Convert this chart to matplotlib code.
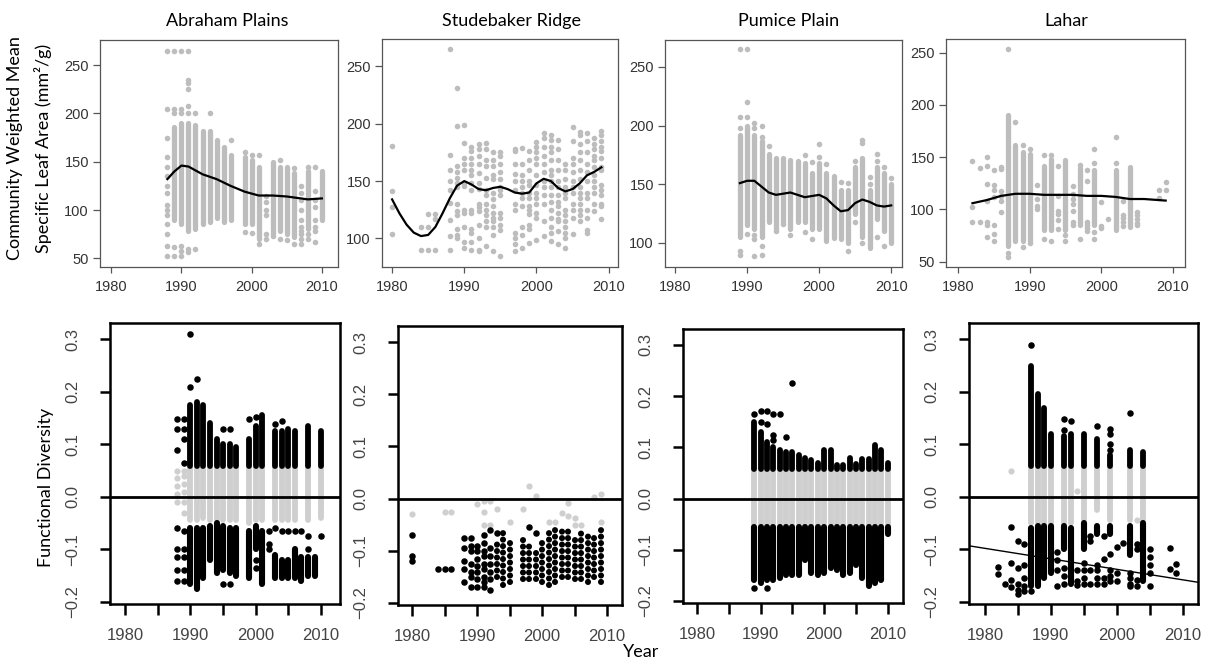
import numpy as np
import matplotlib
matplotlib.use('Agg')
import matplotlib.pyplot as plt

# ---------------- top row: community weighted mean SLA ----------------
# Abraham Plains: dense columns (year, low, high) + loose points + smooth line
ap_years = [1989, 1990, 1991, 1992, 1993, 1994, 1995, 1996, 1997, 1999, 2000, 2001, 2003, 2004, 2005, 2006, 2008, 2010]
ap_lo = [90, 85, 78, 80, 85, 88, 92, 88, 90, 85, 85, 70, 75, 78, 75, 72, 80, 90]
ap_hi = [186, 190, 190, 188, 182, 182, 172, 165, 157, 155, 152, 145, 150, 145, 145, 138, 140, 140]
ap_pt_years = [1988, 1989, 1990, 1991, 1992, 1994, 1997, 1999, 2000, 2001, 2002, 2003, 2004, 2005, 2006, 2007, 2008, 2009]
ap_pt_vals = [
    [265, 205, 175, 155, 145, 135, 125, 118, 105, 100, 95, 85, 75, 63, 52],
    [265, 205, 200, 62, 52],
    [265, 205, 200, 63, 58, 52],
    [265, 235, 232, 225, 208, 200, 60, 57],
    [200, 60],
    [200],
    [172],
    [160, 77],
    [157, 76],
    [157, 65],
    [115, 108, 100, 95, 75, 70],
    [73],
    [152, 70],
    [69],
    [143, 65],
    [125, 118, 110, 100, 90, 82, 78, 75, 70, 65],
    [145, 75, 70],
    [145, 120, 110, 103, 90, 82, 78, 67],
]
ap_line_x = [1988, 1989, 1990, 1991, 1992, 1993, 1995, 1997, 1999, 2001, 2003, 2005, 2007, 2008, 2010]
ap_line_y = [132, 140, 146, 145, 141, 137, 132, 125, 119, 115, 115, 114, 112, 111, 112]

# Studebaker Ridge: only loose points
sr_pt_years = [1980, 1984, 1985, 1986, 1988, 1989, 1990, 1991, 1992, 1993, 1994, 1995, 1997, 1998,
               1999, 2000, 2001, 2002, 2003, 2004, 2005, 2006, 2007, 2008, 2009]
sr_pt_vals = [
    [181, 141, 127, 104],
    [110, 90],
    [121, 110, 90],
    [121, 117, 90],
    [265, 173, 160, 150, 142, 131, 116, 102, 90],
    [231, 198, 163, 158, 153, 148, 145, 130, 124, 120, 108, 103, 100],
    [199, 183, 170, 165, 160, 148, 146, 125, 122, 110, 97, 92],
    [180, 176, 170, 165, 160, 155, 148, 142, 125, 122, 108, 105, 97, 90],
    [182, 178, 172, 165, 157, 148, 143, 130, 127, 124, 112, 100, 90, 89],
    [183, 178, 168, 163, 153, 142, 138, 130, 125, 120, 115, 110, 93],
    [175, 168, 163, 155, 152, 140, 134, 128, 122, 118, 115, 110, 103, 89],
    [175, 172, 165, 158, 152, 145, 142, 138, 122, 118, 112, 107, 85],
    [178, 176, 165, 156, 150, 142, 130, 125, 105, 100, 95, 89],
    [179, 165, 155, 150, 145, 140, 135, 128, 110, 103, 92],
    [176, 168, 160, 150, 147, 140, 135, 128, 125, 121, 112, 108, 96],
    [184, 180, 175, 170, 165, 155, 147, 140, 135, 130, 122, 118, 99],
    [192, 188, 180, 172, 165, 158, 150, 145, 138, 130, 115, 102],
    [190, 186, 180, 175, 168, 160, 155, 150, 145, 138, 132, 125, 118, 110, 105, 98],
    [186, 178, 168, 160, 150, 145, 138, 132, 128, 122, 117, 115, 106, 95],
    [165, 160, 152, 145, 140, 135, 125, 120, 115, 110, 105, 100, 92],
    [197, 185, 170, 165, 158, 150, 145, 140, 130, 125, 118, 104],
    [193, 190, 182, 175, 168, 160, 152, 145, 140, 135, 130, 125, 120, 115],
    [192, 185, 175, 165, 158, 150, 140, 135, 125, 118, 107, 105],
    [188, 182, 178, 172, 168, 162, 155, 150, 145, 140, 130, 124],
    [194, 190, 185, 180, 176, 170, 162, 160, 147, 142, 138, 130, 128, 117],
]
sr_line_x = [1980, 1981, 1982, 1983, 1984, 1985, 1986, 1987, 1988, 1989, 1990, 1991, 1992, 1993, 1994,
             1995, 1996, 1997, 1998, 1999, 2000, 2001, 2002, 2003, 2004, 2005, 2006, 2007, 2008, 2009]
sr_line_y = [134, 122, 112, 105, 102, 103, 110, 122, 135, 146, 150, 147, 143, 142, 144,
             145, 143, 140, 139, 140, 148, 152, 150, 144, 141, 143, 148, 155, 158, 162]

# Pumice Plain
pp_years = [1989, 1990, 1991, 1992, 1993, 1994, 1995, 1996, 1997, 1998, 1999,
            2000, 2001, 2002, 2003, 2004, 2005, 2006, 2007, 2008, 2009, 2010]
pp_lo = [105, 115, 112, 105, 118, 112, 118, 112, 118, 118, 112, 112, 102, 104, 103, 100, 125, 105, 96, 120, 110, 100]
pp_hi = [192, 200, 192, 187, 176, 172, 172, 171, 170, 168, 160, 168, 160, 157, 145, 145, 165, 172, 145, 165, 160, 150]
pp_pt_years = [1989, 1990, 1991, 1992, 1993, 1994, 1995, 1996, 1998, 1999, 2000, 2001, 2003,
               2004, 2005, 2006, 2007, 2008, 2009, 2010]
pp_pt_vals = [
    [265, 207, 198, 93, 90],
    [265, 220, 207, 108],
    [202, 198, 107, 103, 89],
    [200, 190, 97, 90],
    [183],
    [110],
    [116],
    [107],
    [175, 109],
    [169, 103],
    [184, 173],
    [167],
    [152],
    [151, 93],
    [170, 118],
    [188, 185, 100],
    [156, 150],
    [176, 170, 105],
    [165, 97],
    [155],
]
pp_line_x = pp_years
pp_line_y = [151, 153, 153, 148, 143, 141, 142, 143, 141, 139, 140, 141, 138, 132, 127, 128, 134, 137, 135, 132, 131, 132]

# Lahar
lh_years = [1987, 1988, 1989, 1990, 1992, 1993, 1995, 1997, 1999, 2002, 2004]
lh_lo = [65, 70, 70, 70, 80, 80, 80, 85, 85, 80, 83]
lh_hi = [190, 162, 155, 153, 142, 148, 147, 140, 138, 138, 141]
lh_pt_years = [1982, 1983, 1984, 1985, 1986, 1987, 1988, 1989, 1990, 1991, 1992, 1993, 1994, 1995,
               1996, 1997, 1998, 1999, 2000, 2001, 2002, 2003, 2005, 2008, 2009]
lh_pt_vals = [
    [146, 102, 88],
    [140, 88],
    [150, 142, 124, 108, 88, 85, 74],
    [138, 123, 119, 112, 85, 77, 70],
    [141, 139, 118, 113, 108, 98],
    [253, 58, 55],
    [184],
    [162, 64],
    [158, 68],
    [123, 110, 103, 100],
    [152, 72],
    [152, 70],
    [142, 113, 99, 96, 90, 81],
    [76, 70],
    [122, 115, 110, 105, 99, 88, 85],
    [143, 72],
    [138, 127, 88, 85, 82, 79],
    [158, 144, 78, 72],
    [107, 84, 82],
    [91],
    [169, 144],
    [108, 95, 92, 88, 84],
    [98, 95, 91, 87, 85],
    [119, 111],
    [126, 119],
]
lh_line_x = [1982, 1984, 1986, 1988, 1990, 1992, 1994, 1996, 1998, 2000, 2002, 2004, 2006, 2008, 2009]
lh_line_y = [106, 109, 113, 115, 115, 114, 114, 114, 113, 113, 112, 110, 110, 109, 108.5]

# ---------------- bottom row: functional diversity ----------------
nan = np.nan
# Abraham Plains
fa_years = [1990, 1991, 1992, 1993, 1994, 1995, 1996, 1997, 1999, 2000, 2001, 2003, 2004, 2005, 2006, 2007, 2008, 2009, 2010]
fa_top = [0.175, 0.18, 0.175, 0.14, 0.11, 0.10, 0.10, 0.095, 0.11, 0.135, 0.155, 0.125, 0.125, 0.13, 0.125, nan, 0.135, nan, 0.125]
fa_gray = [-0.045, -0.045, -0.04, -0.045, -0.045, -0.045, -0.045, -0.045, -0.05, -0.045, -0.045, -0.045, -0.045, -0.045, -0.045, nan, -0.045, nan, -0.04]
fa_dn_hi = [-0.06, -0.06, -0.06, -0.055, -0.05, -0.055, -0.06, -0.06, -0.065, -0.055, -0.065, -0.11, -0.12, -0.12, -0.1, -0.115, -0.115, -0.115, nan]
fa_dn_lo = [-0.165, -0.175, -0.155, -0.12, -0.145, -0.14, -0.145, -0.15, -0.155, -0.1, -0.165, -0.155, -0.155, -0.155, -0.155, -0.16, -0.15, -0.15, nan]
fa_pt_years = [1988, 1989, 1990, 1991, 1995, 1996, 1999, 2000, 2002, 2003, 2004, 2005, 2006, 2007, 2008, 2010]
fa_pt_vals = [
    [0.148, 0.13, 0.09, -0.06, -0.1, -0.115, -0.14, -0.16],
    [0.148, 0.13, 0.11, 0.065, -0.065, -0.1, -0.115, -0.14, -0.16],
    [0.31, 0.21],
    [0.225],
    [0.13, -0.165],
    [0.13, -0.165],
    [0.148],
    [0.152, -0.12, -0.135],
    [-0.065, -0.09, -0.1],
    [0.138, -0.06],
    [0.145, -0.065],
    [-0.065],
    [-0.065],
    [-0.065],
    [-0.075, -0.1],
    [-0.075],
]
fa_gp_years = [1988, 1989]
fa_gp_vals = [[0.05, 0.035, 0.02, 0.005, -0.01], [0.05, 0.04, 0.025, 0.01, -0.01, -0.03]]

# Studebaker Ridge
fs_years = [1993, 1994, 1995, 1997, 1998, 1999, 2000, 2001, 2002, 2003, 2004, 2005, 2006, 2007, 2008, 2009]
fs_dn_hi = [-0.08, -0.06, -0.075, -0.075, -0.09, -0.1, -0.085, -0.055, -0.06, -0.055, -0.06, -0.075, -0.06, -0.065, -0.07, -0.06]
fs_dn_lo = [-0.15, -0.165, -0.16, -0.155, -0.155, -0.155, -0.16, -0.165, -0.16, -0.15, -0.15, -0.155, -0.155, -0.16, -0.15, -0.16]
fs_pt_years = [1980, 1984, 1985, 1986, 1988, 1989, 1990, 1991, 1992, 1993, 1998, 1999]
fs_pt_vals = [
    [-0.07, -0.11, -0.12],
    [-0.135],
    [-0.135],
    [-0.135],
    [-0.075, -0.095, -0.12, -0.135, -0.16],
    [-0.075, -0.09, -0.1, -0.125, -0.14, -0.15, -0.17],
    [-0.09, -0.1, -0.115, -0.13, -0.14, -0.155, -0.17],
    [-0.07, -0.085, -0.1, -0.11, -0.125, -0.135, -0.15, -0.16, -0.17],
    [-0.06, -0.095, -0.11, -0.125, -0.14, -0.155, -0.175],
    [-0.065],
    [-0.055],
    [-0.065],
]
fs_gp_years = [1980, 1985, 1986, 1990, 1991, 1992, 1993, 1995, 1997, 1998, 1999, 2001, 2002, 2003, 2004, 2005, 2006, 2008, 2009]
fs_gp_vals = [
    [-0.03], [-0.025], [-0.025], [-0.01], [-0.005, -0.025, -0.05], [-0.005, -0.05], [-0.02], [-0.045],
    [-0.02], [0.025], [0.005], [-0.045], [-0.045], [-0.028], [-0.008, -0.033], [-0.038, -0.05],
    [-0.05], [0.003], [0.008, -0.045],
]

# Pumice Plain
fp_years = pp_years
fp_top = [0.15, 0.13, 0.11, 0.10, 0.095, 0.09, 0.09, 0.085, 0.08, 0.075, 0.07,
          0.095, 0.095, 0.065, 0.065, 0.08, 0.068, 0.078, 0.078, 0.105, 0.095, 0.07]
fp_gray = [-0.05] * 22
fp_dn_hi = [-0.055] * 22
fp_dn_lo = [-0.16, -0.165, -0.16, -0.16, -0.155, -0.15, -0.15, -0.15, -0.12, -0.145, -0.15,
            -0.145, -0.135, -0.14, -0.15, -0.145, -0.13, -0.155, -0.17, -0.165, -0.16, -0.07]
fp_pt_years = [1989, 1990, 1991, 1992, 1993, 1994, 1995]
fp_pt_vals = [[0.165, -0.175], [0.17, 0.15], [0.17, 0.145, -0.175], [0.165, 0.125, 0.115], [0.165], [0.12], [0.225]]

# Lahar
fl_years = lh_years
fl_top = [0.25, 0.195, 0.17, 0.12, 0.115, 0.12, 0.12, 0.11, 0.08, 0.09, 0.085]
fl_gray = [-0.05, -0.05, -0.05, -0.05, -0.05, -0.05, -0.045, -0.025, -0.045, -0.045, -0.045]
fl_dn_hi = [-0.06, -0.055, -0.055, -0.055, -0.055, -0.06, -0.05, -0.055, -0.055, -0.055, -0.05]
fl_dn_lo = [-0.17, -0.17, -0.155, -0.145, -0.1, -0.165, -0.1, -0.07, -0.07, -0.11, -0.16]
fl_pt_years = [1982, 1983, 1984, 1985, 1986, 1987, 1991, 1992, 1993, 1994, 1995, 1996, 1997,
               1998, 1999, 2000, 2001, 2002, 2003, 2005, 2008, 2009]
fl_pt_vals = [
    [-0.133, -0.147],
    [-0.165],
    [-0.058, -0.125, -0.158, -0.172],
    [-0.085, -0.135, -0.165, -0.178, -0.185],
    [-0.09, -0.13, -0.155, -0.17, -0.18],
    [0.29, -0.18],
    [-0.105, -0.12, -0.14, -0.17],
    [0.148, 0.128, -0.135, -0.15, -0.165],
    [0.145],
    [-0.14, -0.16, -0.168],
    [-0.125, -0.14, -0.155, -0.165],
    [-0.075, -0.085, -0.14, -0.165],
    [0.135, -0.13, -0.14, -0.155, -0.165],
    [-0.075, -0.118, -0.155, -0.165],
    [0.13, 0.12, 0.1, 0.09, -0.108, -0.14, -0.15, -0.16],
    [-0.095, -0.145, -0.16],
    [-0.088],
    [0.16, -0.145, -0.155, -0.165, -0.17],
    [-0.09, -0.1, -0.158, -0.17],
    [-0.1, -0.115, -0.13, -0.145, -0.17],
    [-0.098, -0.138],
    [-0.128, -0.145],
]
fl_gp_years = [1984, 1994, 2003]
fl_gp_vals = [[0.05], [0.012], [-0.045]]
fl_fit_at_1980 = -0.098
fl_fit_slope = -0.002

titles = ['Abraham Plains', 'Studebaker Ridge', 'Pumice Plain', 'Lahar']

W, H = 1212, 671
TOP_GRAY = '#bdbdbd'
LOW_GRAY = '#cfcfcf'
TICK_FONT = 'Liberation Sans'
TEXT_FONT = ['Lato', 'DejaVu Sans']


def rect(l, t, r, b):
    return [l / W, 1 - b / H, (r - l) / W, (b - t) / H]


def flat(years, vals):
    xs, ys = [], []
    for yr, vs in zip(years, vals):
        for v in vs:
            xs.append(yr)
            ys.append(v)
    return xs, ys


def top_panel(fig, box, xlim, ylim, yticks, cols, pts, line):
    ax = fig.add_axes(rect(*box))
    if cols is not None:
        x, lo, hi = cols
        ax.vlines(x, lo, hi, colors=TOP_GRAY, lw=3.8, capstyle='round', zorder=2)
    px, py = flat(*pts)
    ax.scatter(px, py, s=16, color=TOP_GRAY, lw=0, zorder=2)
    ax.plot(line[0], line[1], color='black', lw=1.6, zorder=3)
    ax.set_xlim(*xlim)
    ax.set_ylim(*ylim)
    ax.set_xticks([1980, 1990, 2000, 2010])
    ax.set_yticks(yticks)
    for s in ax.spines.values():
        s.set_color('#555555')
        s.set_linewidth(0.9)
    ax.tick_params(axis='x', length=4, width=0.9, color='#555555', pad=5.5,
                   labelsize=10.5, labelcolor='#333333')
    ax.tick_params(axis='y', length=5, width=0.9, color='#555555', pad=3,
                   labelsize=10.5, labelcolor='#333333')
    for lab in ax.get_xticklabels() + ax.get_yticklabels():
        lab.set_family(TICK_FONT)
    return ax


def keep(x, a, b):
    x, a, b = np.asarray(x, float), np.asarray(a, float), np.asarray(b, float)
    m = ~(np.isnan(a) | np.isnan(b))
    return x[m], a[m], b[m]


def bottom_panel(fig, box, xlim, years, top, gray, dn_hi, dn_lo, pts, gpts, dotted=False):
    ax = fig.add_axes(rect(*box))
    if gray is not None:
        x, a, b = keep(years, gray, [0.055] * len(years))
        ax.vlines(x, a, b, colors=LOW_GRAY, lw=4.2, capstyle='round', zorder=2)
    gx, gy = flat(*gpts)
    ax.scatter(gx, gy, s=20, color=LOW_GRAY, lw=0, zorder=2)
    if top is not None:
        x, a, b = keep(years, [0.058] * len(years), top)
        ax.vlines(x, a, b, colors='black', lw=4.2, capstyle='round', zorder=3)
    x, a, b = keep(years, dn_lo, dn_hi)
    ls = (0, (0.01, 1.05)) if dotted else 'solid'
    ax.vlines(x, a, b, colors='black', lw=4.4, capstyle='round', linestyles=ls, zorder=3)
    px, py = flat(*pts)
    ax.scatter(px, py, s=22, color='black', lw=0, zorder=3)
    ax.axhline(0, color='black', lw=2.0, zorder=4)
    ax.set_xlim(*xlim)
    ax.set_ylim(-0.204, 0.331)
    ax.set_xticks([1980, 1985, 1990, 1995, 2000, 2005, 2010])
    ax.set_xticklabels(['1980', '', '1990', '', '2000', '', '2010'])
    ax.set_yticks([-0.2, -0.1, 0.0, 0.1, 0.2, 0.3])
    ax.set_yticklabels(['\u22120.2', '\u22120.1', '0.0', '0.1', '0.2', '0.3'], rotation=90, va='center')
    for s in ax.spines.values():
        s.set_linewidth(1.8)
    ax.tick_params(axis='x', length=8, width=1.8, pad=9, labelsize=12, labelcolor='#444444')
    ax.tick_params(axis='y', length=7.5, width=1.8, pad=14, labelsize=12, labelcolor='#444444')
    for lab in ax.get_xticklabels() + ax.get_yticklabels():
        lab.set_family(TICK_FONT)
    return ax


fig = plt.figure(figsize=(W / 100, H / 100), dpi=100)

top_panel(fig, (100, 40, 338, 267), (1978.4, 2012.3), (41, 276), [50, 100, 150, 200, 250],
          (ap_years, ap_lo, ap_hi), (ap_pt_years, ap_pt_vals), (ap_line_x, ap_line_y))
top_panel(fig, (382, 39, 618, 267), (1978.6, 2011.3), (75, 274), [100, 150, 200, 250],
          None, (sr_pt_years, sr_pt_vals), (sr_line_x, sr_line_y))
top_panel(fig, (665, 40, 902, 267), (1978.6, 2011.5), (79.5, 273), [100, 150, 200, 250],
          (pp_years, pp_lo, pp_hi), (pp_pt_years, pp_pt_vals), (pp_line_x, pp_line_y))
top_panel(fig, (946, 39, 1185, 267), (1978.3, 2011.7), (45, 263), [50, 100, 150, 200, 250],
          (lh_years, lh_lo, lh_hi), (lh_pt_years, lh_pt_vals), (lh_line_x, lh_line_y))

bottom_panel(fig, (110, 323, 340, 604), (1977.7, 2012.9), fa_years, fa_top, fa_gray, fa_dn_hi, fa_dn_lo,
             (fa_pt_years, fa_pt_vals), (fa_gp_years, fa_gp_vals))
bottom_panel(fig, (398, 326, 622, 605), (1977.8, 2012.3), fs_years, None, None, fs_dn_hi, fs_dn_lo,
             (fs_pt_years, fs_pt_vals), (fs_gp_years, fs_gp_vals), dotted=True)
bottom_panel(fig, (683, 329, 903, 603), (1977.8, 2012.4), fp_years, fp_top, fp_gray, fp_dn_hi, fp_dn_lo,
             (fp_pt_years, fp_pt_vals), ([], []))
ax4 = bottom_panel(fig, (969, 323, 1198, 604), (1977.6, 2012.3), fl_years, fl_top, fl_gray, fl_dn_hi, fl_dn_lo,
                   (fl_pt_years, fl_pt_vals), (fl_gp_years, fl_gp_vals))
ax4.axline((1980, fl_fit_at_1980), slope=fl_fit_slope, color='black', lw=1.0, zorder=5)

# titles and axis labels
for title, cx in zip(titles, [227, 511, 789, 1066]):
    fig.text(cx / W, 1 - 21 / H, title, ha='center', va='center', fontsize=13, family=TEXT_FONT)
fig.text(15 / W, 1 - 148 / H, 'Community Weighted Mean', rotation=90, ha='center', va='center',
         fontsize=13, family=TEXT_FONT)
fig.text(43 / W, 1 - 148 / H, 'Specific Leaf Area (mm²/g)', rotation=90, ha='center', va='center',
         fontsize=13, family=TEXT_FONT)
fig.text(46 / W, 1 - 487 / H, 'Functional Diversity', rotation=90, ha='center', va='center',
         fontsize=13, family=TEXT_FONT)
fig.text(641 / W, 1 - 652 / H, 'Year', ha='center', va='center', fontsize=13, family=TEXT_FONT)

fig.savefig('out.png', dpi=100)
